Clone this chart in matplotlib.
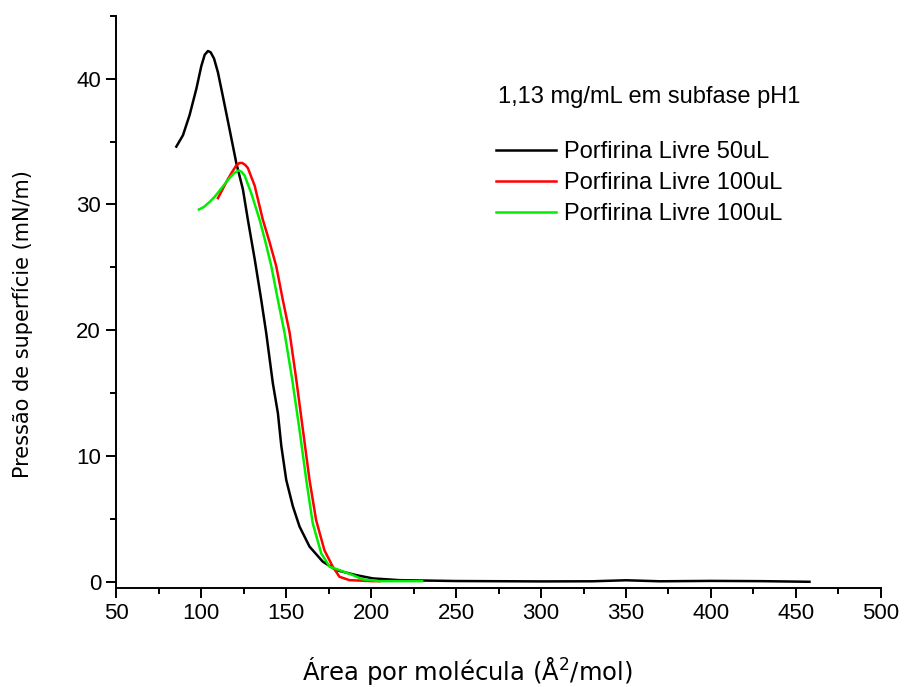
import numpy as np
import matplotlib.pyplot as plt
from matplotlib.ticker import MultipleLocator

# Porfirina Livre 50uL (black)
area_50 = [85.3, 89.2, 93.1, 97.1, 100, 102, 103.9, 105.5, 107.5, 109.8, 112.7, 116.6,
           120.6, 124.5, 127.4, 131.5, 135.3, 138.2, 142.1, 145.1, 147.1, 150, 153.9,
           157.8, 163.7, 171.5, 179.4, 191.2, 200.9, 216.6, 250, 300, 330, 350, 370,
           400, 430, 458]
pi_50 = [34.6, 35.5, 37.1, 39.2, 41.0, 41.9, 42.2, 42.1, 41.6, 40.5, 38.6, 36.0,
         33.3, 31.2, 28.8, 25.6, 22.4, 19.8, 15.8, 13.4, 10.8, 8.1, 6.0,
         4.4, 2.8, 1.6, 0.93, 0.53, 0.27, 0.13, 0.06, 0.03, 0.04, 0.12, 0.04,
         0.07, 0.05, 0.0]

# Porfirina Livre 100uL (red)
area_100a = [109.8, 112.5, 115.6, 118.2, 120.6, 122.5, 124.1, 125.8, 127.4, 131.4, 136.2,
             140.2, 144.1, 148, 152, 155.9, 159.8, 163.7, 167.6, 172.5, 177.4, 181.3,
             187.2, 200.9, 205]
pi_100a = [30.5, 31.2, 32.0, 32.6, 33.1, 33.3, 33.3, 33.15, 32.9, 31.5, 28.8,
           27.0, 25.1, 22.4, 19.8, 16.1, 12.1, 8.1, 4.9, 2.5, 1.2, 0.4,
           0.13, 0.05, 0.05]

# Porfirina Livre 100uL (green)
area_100b = [98.6, 101.5, 104.9, 107.8, 110.8, 113.7, 116.6, 119.4, 121.9, 123.7, 125.5,
             129.4, 134.3, 137.8, 141.2, 145.1, 149, 153.5, 157.8, 161.8, 165.6, 170.6,
             175.5, 181.3, 189.2, 195.1, 204.9, 230]
pi_100b = [29.6, 29.8, 30.2, 30.6, 31.1, 31.6, 32.1, 32.5, 32.7, 32.6, 32.3,
           30.9, 28.8, 27.0, 25.1, 22.4, 19.8, 16.1, 12.1, 8.1, 4.65, 2.26,
           1.2, 0.93, 0.53, 0.19, 0.05, 0.05]

fig = plt.figure(figsize=(9.09, 6.87), dpi=100)
ax = fig.add_axes([0.128, 0.144, 0.841, 0.833])

ax.plot(area_50, pi_50, color='black', lw=1.8, label='Porfirina Livre 50uL')
ax.plot(area_100a, pi_100a, color='#ff0000', lw=1.8, label='Porfirina Livre 100uL')
ax.plot(area_100b, pi_100b, color='#00ee00', lw=1.8, label='Porfirina Livre 100uL')

ax.set_xlim(50, 500)
ax.set_ylim(-0.5, 45)
ax.xaxis.set_major_locator(MultipleLocator(50))
ax.xaxis.set_minor_locator(MultipleLocator(25))
ax.yaxis.set_major_locator(MultipleLocator(10))
ax.yaxis.set_minor_locator(MultipleLocator(5))

for s in ['top', 'right']:
    ax.spines[s].set_visible(False)
for s in ['left', 'bottom']:
    ax.spines[s].set_linewidth(1.4)

ax.tick_params(which='major', direction='out', length=7, width=1.4,
               labelsize=16, pad=4)
ax.tick_params(which='minor', direction='out', length=4, width=1.4)
for lab in ax.get_xticklabels() + ax.get_yticklabels():
    lab.set_family('Liberation Sans')

ax.set_xlabel('Área por molécula (Å$^2$/mol)', fontsize=17.5, family='DejaVu Sans',
              va='baseline')
ax.xaxis.set_label_coords(0.459, -0.161)
ax.set_ylabel('Pressão de superfície (mN/m)', fontsize=15, family='DejaVu Sans')
ax.yaxis.set_label_coords(-0.1096, 0.462)

ax.text(0.499, 0.858, '1,13 mg/mL em subfase pH1', transform=ax.transAxes,
        fontsize=17, family='Liberation Sans', va='center')

leg = ax.legend(loc='upper left', bbox_to_anchor=(0.4965, 0.781), frameon=False,
                prop={'family': 'Liberation Sans', 'size': 17},
                handlelength=2.55, handletextpad=0.34, labelspacing=0.385,
                borderaxespad=0, borderpad=0)

fig.savefig('out.png', dpi=100)
